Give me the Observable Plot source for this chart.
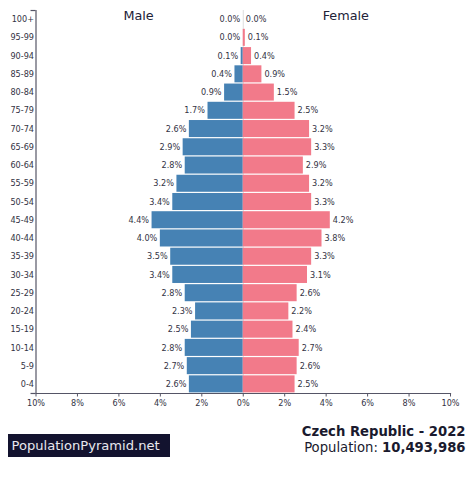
<!DOCTYPE html>
<html><head><meta charset="utf-8">
<script src="https://cdn.jsdelivr.net/npm/d3@7"></script>
<script src="https://cdn.jsdelivr.net/npm/@observablehq/plot@0.6"></script>
<style>
html,body{margin:0;padding:0;background:#fff;width:474px;height:478px;overflow:hidden}
#c{position:relative;width:474px;height:478px;font-family:"DejaVu Sans",sans-serif}
#c svg{position:absolute;left:0;top:0}
#logo{position:absolute;left:8px;top:434px;width:162px;height:23px;box-sizing:border-box;background:#13132f;color:#e8e8ee;font-size:13.1px;line-height:23px;padding-left:3.5px;white-space:nowrap}
#ttl{position:absolute;right:8.5px;top:424px;text-align:right;color:#1a1a2e;font-size:13.2px;line-height:16px;white-space:nowrap}
</style></head><body><div id="c"><div id="logo">PopulationPyramid.net</div>
<div id="ttl"><b>Czech Republic - 2022</b><br>Population: <b>10,493,986</b></div></div>
<script>
const ages = ["100+","95-99","90-94","85-89","80-84","75-79","70-74","65-69","60-64","55-59","50-54","45-49","40-44","35-39","30-34","25-29","20-24","15-19","10-14","5-9","0-4"];
const male = [0.0,0.0,0.1,0.4,0.9,1.7,2.6,2.9,2.8,3.2,3.4,4.4,4.0,3.5,3.4,2.8,2.3,2.5,2.8,2.7,2.6];
const female = [0.0,0.1,0.4,0.9,1.5,2.5,3.2,3.3,2.9,3.2,3.3,4.2,3.8,3.3,3.1,2.6,2.2,2.4,2.7,2.6,2.5];
const ticks = [-10,-8,-6,-4,-2,0,2,4,6,8,10];
const ink = "#333344", axisInk = "#555566";
const rows = ages.map((a,i)=>({age:a,m:male[i],f:female[i]}));
const pct = v => Math.abs(v).toFixed(1)+"%";
const plot = Plot.plot({
  width:474,height:420,
  marginLeft:35.5,marginRight:24,marginTop:10,marginBottom:27,
  style:{fontFamily:"DejaVu Sans",background:"transparent"},
  x:{domain:[-10,10],axis:null},
  y:{domain:ages,axis:null,padding:0,round:false},
  marks:[
    Plot.ruleX([0],{stroke:"#dddddd",strokeWidth:1}),
    Plot.barX(rows,{y:"age",x1:0,x2:d=>-d.m,fill:"#4682b4",insetTop:0.6,insetBottom:0.6}),
    Plot.barX(rows,{y:"age",x1:0,x2:"f",fill:"#f27a8a",insetTop:0.6,insetBottom:0.6}),
    Plot.text(rows,{y:"age",x:d=>-d.m,text:d=>pct(d.m),textAnchor:"end",dx:-3,fontSize:8.15,fill:ink}),
    Plot.text(rows,{y:"age",x:"f",text:d=>pct(d.f),textAnchor:"start",dx:2.5,fontSize:8.15,fill:ink}),
    Plot.axisY({anchor:"left",tickSize:0,tickPadding:2,fontSize:8.15,label:null,color:ink}),
    Plot.axisX({anchor:"bottom",ticks,tickSize:3.5,tickPadding:3.5,fontSize:8.15,label:null,tickFormat:d=>Math.abs(d)+"%",color:ink,stroke:axisInk}),
    Plot.ruleX([-10],{stroke:axisInk,strokeWidth:1.2}),
    Plot.frame({anchor:"bottom",stroke:axisInk,strokeWidth:1.2}),
    Plot.ruleY(["100+"],{x1:-10.24,x2:-10,dy:-9.1,stroke:axisInk,strokeWidth:1.2}),
    Plot.ruleY(["0-4"],{x1:-10.24,x2:-10,dy:9.1,stroke:axisInk,strokeWidth:1.2}),
    Plot.text(["Male"],{x:-5.05,frameAnchor:"top",dy:0,fontSize:12.8,fill:"#222238",text:d=>d}),
    Plot.text(["Female"],{x:4.95,frameAnchor:"top",dy:0,fontSize:12.8,fill:"#222238",text:d=>d})
  ]
});
document.getElementById("c").prepend(plot);
</script></body></html>
